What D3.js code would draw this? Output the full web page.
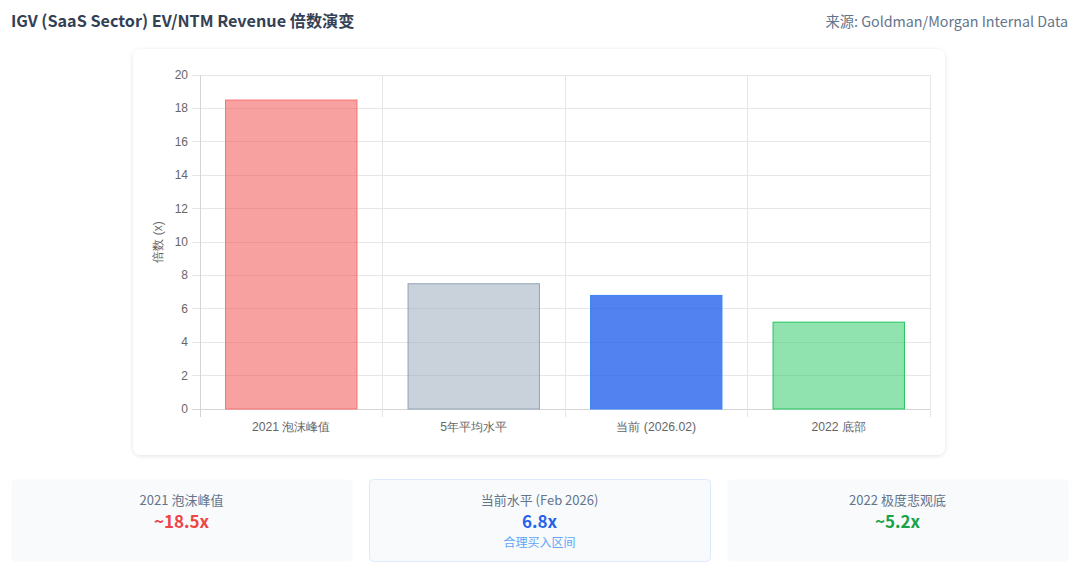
<!DOCTYPE html>
<html><head><meta charset="utf-8">
<script src="https://cdn.jsdelivr.net/npm/d3@7"></script>
<style>
body{margin:0;background:#fff;font-family:"Noto Sans CJK SC","Noto Sans",sans-serif;}
</style></head>
<body><div id="c"></div>
<script>
const categories = ["2021 泡沫峰值","5年平均水平","当前 (2026.02)","2022 底部"];
const values = [18.5, 7.5, 6.8, 5.2];
const fills = ["rgba(239,68,68,0.5)","rgba(148,163,184,0.5)","rgba(37,99,235,0.8)","rgba(34,197,94,0.5)"];
const strokes = ["#f87171","#94a3b8","#3b82f6","#22c55e"];
const yTicks = [0,2,4,6,8,10,12,14,16,18,20];
const cardLabels = ["2021 泡沫峰值","当前水平 (Feb 2026)","2022 极度悲观底"];
const cardValues = ["~18.5x","6.8x","~5.2x"];
const cardColors = ["#ef4444","#2563eb","#16a34a"];
const cardSubs = ["","合理买入区间",""];

const W=1080,H=574;
const svg=d3.select("#c").append("svg").attr("width",W).attr("height",H);
const defs=svg.append("defs");
const f=defs.append("filter").attr("id","sh").attr("x","-5%").attr("y","-5%").attr("width","110%").attr("height","115%");
f.append("feDropShadow").attr("dx",0).attr("dy",1).attr("stdDeviation",2).attr("flood-color","#000").attr("flood-opacity",0.12);

svg.append("text").attr("x",11).attr("y",27).attr("font-size",16.2).attr("font-weight",700).attr("fill","#334155")
  .attr("font-family","'Noto Sans CJK SC'").text("IGV (SaaS Sector) EV/NTM Revenue 倍数演变");
svg.append("text").attr("x",1068).attr("y",27).attr("text-anchor","end").attr("font-size",14.3).attr("fill","#64748b")
  .attr("font-family","'Noto Sans CJK SC'").text("来源: Goldman/Morgan Internal Data");

svg.append("rect").attr("x",133).attr("y",49).attr("width",812).attr("height",406).attr("rx",8)
  .attr("fill","#fff").attr("filter","url(#sh)");

const L=200,R=930,T=75,B=409;
const x=d3.scaleBand().domain(categories).range([L,R]);
const y=d3.scaleLinear().domain([0,20]).range([B,T]);
const g=svg.append("g");
const font="'Liberation Sans',Arial,sans-serif";
g.selectAll("line.h").data(yTicks).join("line").attr("x1",L-8).attr("x2",R).attr("y1",d=>y(d)).attr("y2",d=>y(d))
  .attr("stroke",d=>d===0?"#d4d4d4":"#e6e6e6").attr("stroke-width",1).attr("shape-rendering","crispEdges");
const vx=categories.map(c=>x(c)).concat([R]);
g.selectAll("line.v").data(vx).join("line").attr("x1",d=>d).attr("x2",d=>d).attr("y1",T).attr("y2",B+8)
  .attr("stroke",(d,i)=>i===0?"#d4d4d4":"#e6e6e6").attr("shape-rendering","crispEdges");
g.selectAll("text.yt").data(yTicks).join("text").attr("x",L-12).attr("y",d=>y(d)+4).attr("text-anchor","end")
  .attr("font-size",12).attr("fill","#666").attr("font-family",font).text(d=>d);
g.selectAll("text.xt").data(categories).join("text").attr("x",d=>x(d)+x.bandwidth()/2).attr("y",431).attr("text-anchor","middle")
  .attr("font-size",12.2).attr("fill","#666").attr("font-family",font).text(d=>d);
g.append("text").attr("transform",`translate(162,${(T+B)/2}) rotate(-90)`).attr("text-anchor","middle")
  .attr("font-size",12).attr("fill","#666").attr("font-family",font).text("倍数 (x)");
const bw=x.bandwidth()*0.72;
g.selectAll("rect.bar").data(values).join("rect")
  .attr("x",(d,i)=>x(categories[i])+(x.bandwidth()-bw)/2).attr("width",bw)
  .attr("y",d=>y(d)).attr("height",d=>B-y(d))
  .attr("fill",(d,i)=>fills[i]).attr("stroke",(d,i)=>strokes[i]).attr("stroke-width",1);

const cx=[11,369,727], cw=341;
cardLabels.forEach((lab,i)=>{
  const gg=svg.append("g");
  gg.append("rect").attr("x",cx[i]+0.5).attr("y",479.5).attr("width",cw).attr("height",82).attr("rx",4)
    .attr("fill","#f8fafc").attr("stroke",i===1?"#dbeafe":"none");
  const m=cx[i]+cw/2;
  gg.append("text").attr("x",m).attr("y",505).attr("text-anchor","middle").attr("font-size",13).attr("fill","#64748b").text(lab);
  gg.append("text").attr("x",m).attr("y",528).attr("text-anchor","middle").attr("font-size",17).attr("font-weight",700).attr("fill",cardColors[i]).text(cardValues[i]);
  if(cardSubs[i]) gg.append("text").attr("x",m).attr("y",547).attr("text-anchor","middle").attr("font-size",12).attr("fill","#60a5fa").text(cardSubs[i]);
});
</script></body></html>
